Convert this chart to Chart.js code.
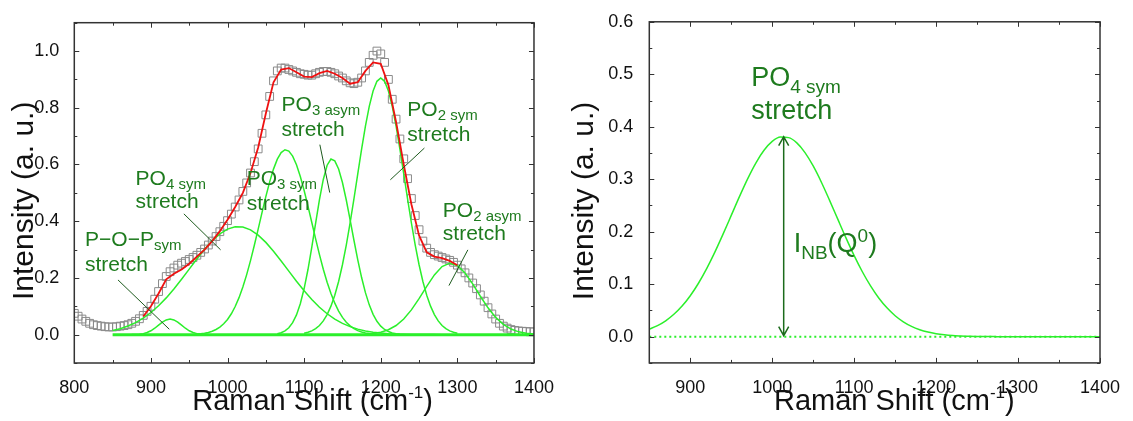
<!DOCTYPE html>
<html>
<head>
<meta charset="utf-8">
<title>Raman spectrum deconvolution</title>
<script src="https://cdn.jsdelivr.net/npm/chart.js@4.4.1/dist/chart.umd.min.js"></script>
<style>
  body { margin: 0; background: #fff; }
  #wrap { position: relative; width: 1133px; height: 421px; }
  canvas { position: absolute; top: 0; }
  #ramanLeft { left: 0; }
  #ramanRight { left: 560px; }
</style>
</head>
<body>
<div id="wrap">
  <canvas id="ramanLeft" width="560" height="421"></canvas>
  <canvas id="ramanRight" width="573" height="421"></canvas>
</div>
<script>
// measured spectrum (grey squares)
const measShift = [
  800, 805, 810, 815, 820, 825, 830, 835, 840, 845,
  850, 855, 860, 865, 870, 875, 880, 885, 890, 895,
  900, 905, 910, 915, 920, 925, 930, 935, 940, 945,
  950, 955, 960, 965, 970, 975, 980, 985, 990, 995,
  1000, 1005, 1010, 1015, 1020, 1025, 1030, 1035, 1040, 1045,
  1050, 1055, 1060, 1065, 1070, 1075, 1080, 1085, 1090, 1095,
  1100, 1105, 1110, 1115, 1120, 1125, 1130, 1135, 1140, 1145,
  1150, 1155, 1160, 1165, 1170, 1175, 1180, 1185, 1190, 1195,
  1200, 1205, 1210, 1215, 1220, 1225, 1230, 1235, 1240, 1245,
  1250, 1255, 1260, 1265, 1270, 1275, 1280, 1285, 1290, 1295,
  1300, 1305, 1310, 1315, 1320, 1325, 1330, 1335, 1340, 1345,
  1350, 1355, 1360, 1365, 1370, 1375, 1380, 1385, 1390, 1395,
  1400
];
const measIntensity = [
  0.075, 0.065, 0.055, 0.047, 0.04, 0.035, 0.032, 0.03, 0.028, 0.027,
  0.027, 0.028, 0.03, 0.032, 0.035, 0.04, 0.047, 0.056, 0.068, 0.082,
  0.1, 0.125, 0.152, 0.18, 0.205, 0.222, 0.235, 0.245, 0.252, 0.258,
  0.265, 0.272, 0.28, 0.29, 0.302, 0.316, 0.33, 0.346, 0.363, 0.382,
  0.402, 0.425, 0.45, 0.475, 0.505, 0.535, 0.57, 0.61, 0.655, 0.71,
  0.775, 0.84, 0.895, 0.93, 0.94, 0.94, 0.935, 0.93, 0.925, 0.92,
  0.918, 0.915, 0.915, 0.92, 0.925, 0.928, 0.928, 0.925, 0.92, 0.912,
  0.905, 0.895, 0.888, 0.885, 0.89, 0.905, 0.93, 0.96, 0.985, 1.0,
  0.99, 0.96, 0.9, 0.83, 0.76, 0.69, 0.62, 0.55, 0.48, 0.42,
  0.37, 0.33, 0.305, 0.29, 0.282, 0.277, 0.272, 0.267, 0.262, 0.255,
  0.245, 0.232, 0.218, 0.2, 0.182, 0.162, 0.14, 0.118, 0.095, 0.073,
  0.055, 0.04, 0.03, 0.023, 0.018, 0.015, 0.013, 0.012, 0.011, 0.01,
  0.01
];

// cumulative fit (red)
const fitShift = [
  890, 900, 910, 920, 930, 940, 950, 960, 970, 980, 990,
  1000, 1010, 1020, 1030, 1040, 1050, 1060, 1070, 1080, 1090,
  1100, 1110, 1120, 1130, 1140, 1150, 1160, 1170, 1180, 1190,
  1200, 1210, 1220, 1230, 1240, 1250, 1260, 1270, 1280, 1290, 1300
];
const fitIntensity = [
  0.064, 0.1, 0.145, 0.195, 0.215, 0.23, 0.25, 0.275, 0.3, 0.33, 0.365,
  0.405, 0.45, 0.5, 0.57, 0.66, 0.78, 0.89, 0.935, 0.94, 0.925,
  0.91, 0.908, 0.922, 0.93, 0.92, 0.905, 0.885, 0.89, 0.93, 0.96,
  0.955, 0.88, 0.75, 0.6, 0.46, 0.35, 0.29, 0.275, 0.27, 0.26, 0.245
];

// fitted bands (green)
const popShift = [875, 880, 885, 890, 895, 900, 905, 910, 915, 920, 925, 930, 935, 940, 945, 950, 955, 960, 965, 970, 975];
const popIntensity = [0.0002, 0.0006, 0.0016, 0.0036, 0.0074, 0.0137, 0.0226, 0.0334, 0.044, 0.052, 0.055, 0.052, 0.044, 0.0334, 0.0226, 0.0137, 0.0074, 0.0036, 0.0016, 0.0006, 0.0002];

const po4Shift = [
  850, 860, 870, 880, 890, 900, 910, 920, 930, 940,
  950, 960, 970, 980, 990, 1000, 1010, 1020, 1030, 1040,
  1050, 1060, 1070, 1080, 1090, 1100, 1110, 1120, 1130, 1140,
  1150, 1160, 1170, 1180, 1190, 1200, 1210, 1220, 1230, 1240,
  1250, 1260, 1270, 1280, 1290, 1300, 1310, 1320, 1330, 1340,
  1350, 1360, 1370, 1380, 1390, 1400
];
const po4Intensity = [
  0.0143, 0.0211, 0.0303, 0.0426, 0.0583, 0.078, 0.1018, 0.1296, 0.161, 0.1953,
  0.2311, 0.2669, 0.3008, 0.3309, 0.3551, 0.372, 0.3803, 0.3793, 0.3693, 0.3508,
  0.3253, 0.2943, 0.2598, 0.2239, 0.1883, 0.1545, 0.1237, 0.0967, 0.0737, 0.0549,
  0.0399, 0.0282, 0.0195, 0.0132, 0.0087, 0.0056, 0.0035, 0.0021, 0.0013, 0.0007,
  0.0004, 0.0002, 0.0001, 0, 0, 0, 0, 0, 0, 0,
  0, 0, 0, 0, 0, 0
];

const po3SymShift = [
  960, 965, 970, 975, 980, 985, 990, 995, 1000, 1005,
  1010, 1015, 1020, 1025, 1030, 1035, 1040, 1045, 1050, 1055,
  1060, 1065, 1070, 1075, 1080, 1085, 1090, 1095, 1100, 1105,
  1110, 1115, 1120, 1125, 1130, 1135, 1140, 1145, 1150, 1155,
  1160, 1165, 1170, 1175, 1180, 1185, 1190, 1195
];
const po3SymIntensity = [
  0.0019, 0.0032, 0.0051, 0.0079, 0.0121, 0.0181, 0.0266, 0.0382, 0.0536, 0.0737,
  0.0991, 0.1305, 0.168, 0.2117, 0.2611, 0.3151, 0.3722, 0.4302, 0.4867, 0.5388,
  0.5837, 0.6187, 0.6419, 0.652, 0.6475, 0.6295, 0.599, 0.5578, 0.5082, 0.4531,
  0.3955, 0.3377, 0.2822, 0.2308, 0.1847, 0.1447, 0.1109, 0.0831, 0.061, 0.0438,
  0.0308, 0.0212, 0.0143, 0.0094, 0.0061, 0.0038, 0.0024, 0.0014
];

const po3AsymShift = [
  1065, 1070, 1075, 1080, 1085, 1090, 1095, 1100, 1105, 1110,
  1115, 1120, 1125, 1130, 1135, 1140, 1145, 1150, 1155, 1160,
  1165, 1170, 1175, 1180, 1185, 1190, 1195, 1200, 1205, 1210,
  1215, 1220, 1225
];
const po3AsymIntensity = [
  0.0034, 0.0069, 0.0133, 0.0243, 0.0422, 0.0697, 0.1092, 0.1626, 0.2297, 0.3084,
  0.3931, 0.4759, 0.5472, 0.5974, 0.6194, 0.6127, 0.584, 0.5363, 0.4747, 0.4049,
  0.3329, 0.2637, 0.2013, 0.1481, 0.105, 0.0717, 0.0472, 0.03, 0.0183, 0.0108,
  0.0061, 0.0033, 0.0017
];

const po2SymShift = [
  1100, 1105, 1110, 1115, 1120, 1125, 1130, 1135, 1140, 1145,
  1150, 1155, 1160, 1165, 1170, 1175, 1180, 1185, 1190, 1195,
  1200, 1205, 1210, 1215, 1220, 1225, 1230, 1235, 1240, 1245,
  1250, 1255, 1260, 1265, 1270, 1275, 1280, 1285, 1290, 1295,
  1300
];
const po2SymIntensity = [
  0.005, 0.0083, 0.0134, 0.0211, 0.0324, 0.0485, 0.0708, 0.1005, 0.1391, 0.1875,
  0.2464, 0.3156, 0.3937, 0.4785, 0.5666, 0.6538, 0.735, 0.805, 0.8591, 0.8933,
  0.905, 0.8933, 0.8591, 0.805, 0.735, 0.6538, 0.5666, 0.4785, 0.3937, 0.3156,
  0.2464, 0.1875, 0.1391, 0.1005, 0.0708, 0.0485, 0.0324, 0.0211, 0.0134, 0.0083,
  0.005
];

const po2AsymShift = [1180, 1190, 1200, 1210, 1220, 1230, 1240, 1250, 1260, 1270, 1280, 1290, 1300, 1310, 1320, 1330, 1340, 1350, 1360, 1370, 1380, 1390, 1400];
const po2AsymIntensity = [0.0016, 0.0039, 0.0086, 0.0173, 0.0322, 0.0552, 0.0872, 0.1269, 0.1702, 0.2105, 0.2399, 0.252, 0.2438, 0.2175, 0.1788, 0.1354, 0.0946, 0.0609, 0.0361, 0.0197, 0.0099, 0.0046, 0.002];

const baseShift = [850, 1400];
const baseIntensity = [0, 0];

// axis titles
const xTitleParts = [['Raman Shift (cm', 'n'], ['-1', 'sup'], [')', 'n']];
const yTitleText = 'Intensity (a. u.)';

// labels, placed in data units
const leftNotes = [
  { x: 814, y: 0.314, parts: [['P\u2212O\u2212P', 'n'], ['sym', 'sub']] },
  { x: 814, y: 0.225, parts: [['stretch', 'n']] },
  { x: 880, y: 0.528, parts: [['PO', 'n'], ['4 sym', 'sub']] },
  { x: 880, y: 0.445, parts: [['stretch', 'n']] },
  { x: 1025, y: 0.528, parts: [['PO', 'n'], ['3 sym', 'sub']] },
  { x: 1025, y: 0.44, parts: [['stretch', 'n']] },
  { x: 1070.5, y: 0.787, parts: [['PO', 'n'], ['3 asym', 'sub']] },
  { x: 1070.5, y: 0.699, parts: [['stretch', 'n']] },
  { x: 1234.7, y: 0.772, parts: [['PO', 'n'], ['2 sym', 'sub']] },
  { x: 1234.7, y: 0.684, parts: [['stretch', 'n']] },
  { x: 1281, y: 0.4165, parts: [['PO', 'n'], ['2 asym', 'sub']] },
  { x: 1281, y: 0.332, parts: [['stretch', 'n']] },
];
const leftLeaders = [
  [857, 0.193, 924, 0.019],
  [943, 0.426, 991, 0.299],
  [1120.5, 0.67, 1133.4, 0.501],
  [1257, 0.658, 1212.5, 0.546],
  [1313.7, 0.299, 1289, 0.173],
];
const rightNotes = [
  { x: 974.4, y: 0.478, parts: [['PO', 'n'], ['4 sym', 'sub']] },
  { x: 974.4, y: 0.415, parts: [['stretch', 'n']] },
  { x: 1026.2, y: 0.161, parts: [['I', 'n'], ['NB', 'sub'], ['(Q', 'n'], ['0', 'sup'], [')', 'n']] },
];
const rightArrow = { x: 1014, from: 0, to: 0.381 };

const FONT = '"Liberation Sans", Arial, Helvetica, sans-serif';
const GREEN = '#2bef2b';
const TEXT_GREEN = '#1e7b1e';
const LEADER_GREEN = '#1d5a1d';

Chart.defaults.font.family = FONT;
Chart.defaults.color = '#111';

const pts = (xs, ys) => xs.map((x, i) => ({ x, y: ys[i] }));

const lineSet = (xs, ys, extra) => Object.assign({
  data: pts(xs, ys),
  showLine: true,
  borderColor: GREEN,
  backgroundColor: GREEN,
  borderWidth: 1.5,
  pointRadius: 0,
  pointHoverRadius: 0,
  tension: 0,
  order: 1,
}, extra || {});

// draws a run of text pieces (normal / subscript / superscript) from px
const drawParts = (ctx, parts, px, py, fs) => {
  parts.forEach(([text, kind]) => {
    const size = kind === 'n' ? fs.main : fs.small;
    const dy = kind === 'sub' ? fs.sub : (kind === 'sup' ? fs.sup : 0);
    ctx.font = size + 'px ' + FONT;
    ctx.fillText(text, px, py + dy);
    px += ctx.measureText(text).width;
  });
};
const partsWidth = (ctx, parts, fs) => parts.reduce((w, [text, kind]) => {
  ctx.font = (kind === 'n' ? fs.main : fs.small) + 'px ' + FONT;
  return w + ctx.measureText(text).width;
}, 0);

// closed frame with inward ticks on all four sides
const frameTicks = {
  id: 'frameTicks',
  afterDraw(chart) {
    const { ctx, chartArea: a, scales: { x, y } } = chart;
    ctx.save();
    ctx.strokeStyle = '#333';
    ctx.lineWidth = 1;
    ctx.beginPath();
    x.ticks.forEach((t) => {
      const px = Math.round(x.getPixelForValue(t.value)) + 0.5;
      const len = t.label ? 5 : 3;
      ctx.moveTo(px, a.bottom); ctx.lineTo(px, a.bottom - len);
      ctx.moveTo(px, a.top); ctx.lineTo(px, a.top + len);
    });
    y.ticks.forEach((t) => {
      const py = Math.round(y.getPixelForValue(t.value)) + 0.5;
      const len = t.label ? 5 : 3;
      ctx.moveTo(a.left, py); ctx.lineTo(a.left + len, py);
      ctx.moveTo(a.right, py); ctx.lineTo(a.right - len, py);
    });
    ctx.stroke();
    ctx.lineWidth = 1.5;
    ctx.strokeRect(a.left, a.top, a.right - a.left, a.bottom - a.top);
    ctx.restore();
  }
};

function axisTitlesPlugin(xMid, yMid) {
  const xfs = { main: 29, small: 17, sub: 0, sup: -12 };
  return {
    id: 'axisTitles',
    afterDraw(chart) {
      const { ctx, scales: { x, y } } = chart;
      ctx.save();
      ctx.fillStyle = '#111';
      ctx.textAlign = 'left';
      ctx.textBaseline = 'alphabetic';
      const w = partsWidth(ctx, xTitleParts, xfs);
      drawParts(ctx, xTitleParts, x.getPixelForValue(xMid) - w / 2, 410, xfs);
      ctx.translate(33, y.getPixelForValue(yMid));
      ctx.rotate(-Math.PI / 2);
      ctx.textAlign = 'center';
      ctx.font = '30px ' + FONT;
      ctx.fillText(yTitleText, 0, 0);
      ctx.restore();
    }
  };
}

function notesPlugin(notes, leaders, arrow, fs) {
  return {
    id: 'notes',
    afterDatasetsDraw(chart) {
      const { ctx, scales: { x, y } } = chart;
      ctx.save();
      ctx.strokeStyle = LEADER_GREEN;
      ctx.lineWidth = 1;
      leaders.forEach(([x1, y1, x2, y2]) => {
        ctx.beginPath();
        ctx.moveTo(x.getPixelForValue(x1), y.getPixelForValue(y1));
        ctx.lineTo(x.getPixelForValue(x2), y.getPixelForValue(y2));
        ctx.stroke();
      });
      if (arrow) {
        const ax = x.getPixelForValue(arrow.x);
        const top = y.getPixelForValue(arrow.to);
        const bot = y.getPixelForValue(arrow.from) - 1;
        ctx.strokeStyle = '#1c6b1c';
        ctx.lineWidth = 1.5;
        ctx.beginPath();
        ctx.moveTo(ax, top); ctx.lineTo(ax, bot);
        ctx.moveTo(ax - 5, top + 9); ctx.lineTo(ax, top); ctx.lineTo(ax + 5, top + 9);
        ctx.moveTo(ax - 5, bot - 9); ctx.lineTo(ax, bot); ctx.lineTo(ax + 5, bot - 9);
        ctx.stroke();
      }
      ctx.fillStyle = TEXT_GREEN;
      ctx.textAlign = 'left';
      ctx.textBaseline = 'alphabetic';
      notes.forEach((n) => {
        drawParts(ctx, n.parts, x.getPixelForValue(n.x), y.getPixelForValue(n.y), fs);
      });
      ctx.restore();
    }
  };
}

const tickFont = { size: 18 };

new Chart(document.getElementById('ramanLeft'), {
  type: 'scatter',
  data: {
    datasets: [
      lineSet(fitShift, fitIntensity, { borderColor: '#ee1111', borderWidth: 1.8, order: 0 }),
      lineSet(baseShift, baseIntensity, { borderWidth: 3 }),
      lineSet(popShift, popIntensity),
      lineSet(po4Shift, po4Intensity),
      lineSet(po3SymShift, po3SymIntensity),
      lineSet(po3AsymShift, po3AsymIntensity),
      lineSet(po2SymShift, po2SymIntensity),
      lineSet(po2AsymShift, po2AsymIntensity),
      {
        data: pts(measShift, measIntensity),
        pointStyle: 'rect',
        pointRadius: 5.5,
        pointHoverRadius: 5.5,
        borderWidth: 1,
        borderColor: '#8a8a8a',
        backgroundColor: 'rgba(255,255,255,0)',
        order: 2,
      },
    ],
  },
  options: {
    responsive: false,
    animation: false,
    events: [],
    layout: { padding: { top: 22.7, right: 25, left: 0, bottom: 0 } },
    plugins: { legend: { display: false }, tooltip: { enabled: false } },
    scales: {
      x: {
        type: 'linear', min: 800, max: 1400,
        grid: { display: false }, border: { display: false },
        ticks: {
          stepSize: 50, autoSkip: false, maxRotation: 0, padding: 6, font: tickFont,
          callback: (v) => (v % 100 === 0 ? String(v) : ''),
        },
        afterFit: (s) => { s.height = 58; },
      },
      y: {
        min: -0.1, max: 1.1,
        grid: { display: false }, border: { display: false },
        ticks: {
          stepSize: 0.1, autoSkip: false, padding: 7, font: tickFont,
          callback: (v) => {
            const k = Math.round(v * 10);
            return (k >= 0 && k <= 10 && k % 2 === 0) ? (k / 10).toFixed(1) : '';
          },
        },
        afterFit: (s) => { s.width = 74.3; },
      },
    },
  },
  plugins: [
    frameTicks,
    axisTitlesPlugin(1111, 0.472),
    notesPlugin(leftNotes, leftLeaders, null, { main: 21, small: 15, sub: 4, sup: -8 }),
  ],
});

new Chart(document.getElementById('ramanRight'), {
  type: 'scatter',
  data: {
    datasets: [
      lineSet(po4Shift, po4Intensity, { cubicInterpolationMode: 'monotone', order: 0 }),
      lineSet(baseShift, baseIntensity, { borderWidth: 2, borderDash: [2, 3] }),
    ],
  },
  options: {
    responsive: false,
    animation: false,
    events: [],
    layout: { padding: { top: 21.8, right: 33, left: 0, bottom: 0 } },
    plugins: { legend: { display: false }, tooltip: { enabled: false } },
    scales: {
      x: {
        type: 'linear', min: 850, max: 1400,
        grid: { display: false }, border: { display: false },
        ticks: {
          stepSize: 50, autoSkip: false, maxRotation: 0, padding: 6, font: tickFont,
          callback: (v) => (v % 100 === 0 ? String(v) : ''),
        },
        afterFit: (s) => { s.height = 58.1; },
      },
      y: {
        min: -0.05, max: 0.6,
        grid: { display: false }, border: { display: false },
        ticks: {
          stepSize: 0.05, autoSkip: false, padding: 8, font: tickFont,
          callback: (v) => {
            const k = Math.round(v * 100);
            return (k >= 0 && k % 10 === 0) ? (k / 100).toFixed(1) : '';
          },
        },
        afterFit: (s) => { s.width = 89.3; },
      },
    },
  },
  plugins: [
    frameTicks,
    axisTitlesPlugin(1149, 0.2586),
    notesPlugin(rightNotes, [], rightArrow, { main: 27, small: 19, sub: 7, sup: -10 }),
  ],
});
</script>
</body>
</html>
